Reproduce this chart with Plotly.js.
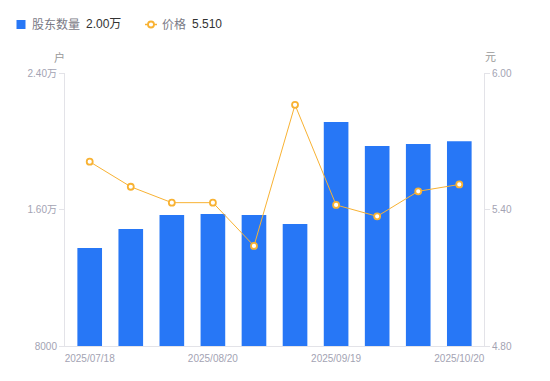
<!DOCTYPE html>
<html><head><meta charset="utf-8">
<script src="https://cdn.plot.ly/plotly-3.0.1.min.js"></script>
<style>html,body{margin:0;padding:0;background:#fff}#c{width:550px;height:381px}</style>
</head><body><div id="c"></div>
<script>
const dates = ["2025/07/18","2025/07/31","2025/08/10","2025/08/20","2025/08/31","2025/09/10","2025/09/19","2025/09/30","2025/10/10","2025/10/20"];
const holders = [13750, 14850, 15680, 15740, 15680, 15150, 21130, 19720, 19840, 20000];
const prices = [5.61, 5.50, 5.43, 5.43, 5.24, 5.86, 5.42, 5.37, 5.48, 5.51];
const shownTicks = ["2025/07/18","2025/08/20","2025/09/19","2025/10/20"];
const leftTicks = [8000, 16000, 24000];
const leftText = ["8000", "1.60万", "2.40万"];
const rightTicks = [4.8, 5.4, 6.0];
const rightText = ["4.80", "5.40", "6.00"];
const legendNames = ["股东数量", "价格"];
const legendValues = ["2.00万", "5.510"];

const font = "'Liberation Sans', 'Noto Sans CJK SC', sans-serif";
const tickColor = "#a3a3b3";
const lineColor = "#e3e3e8";
const barColor = "#2777f6";
const lineCol = "#f8b233";

const M = {l:65, r:66, t:73, b:35};
const W = 550, H = 381;
const pw = W - M.l - M.r, ph = H - M.t - M.b;
const px = x => (x - M.l) / pw;
const py = y => (H - M.b - y) / ph;

const traces = [
  {type:"bar", x:dates, y:holders, name:legendNames[0], marker:{color:barColor}, width:0.6, yaxis:"y"},
  {type:"scatter", mode:"lines+markers", x:dates, y:prices, yaxis:"y2", name:legendNames[1],
   line:{color:lineCol, width:1},
   marker:{size:6, color:"#fff", line:{color:lineCol, width:1.8}}}
];

const ann = (txt, x, y, anchor, color, size) => ({text:txt, xref:"paper", yref:"paper", x:px(x), y:py(y),
  xanchor:anchor, yanchor:"middle", showarrow:false, borderpad:0, font:{size:size, color:color, family:font}});

const layout = {
  width:W, height:H,
  margin:{l:M.l, r:M.r, t:M.t, b:M.b, autoexpand:false},
  paper_bgcolor:"#fff", plot_bgcolor:"#fff",
  font:{family:font, size:10, color:tickColor},
  showlegend:false,
  bargap:0.4,
  xaxis:{type:"category", tickmode:"array", tickvals:shownTicks, ticktext:shownTicks,
         showgrid:false, showline:true, linecolor:lineColor, linewidth:1,
         ticks:"outside", ticklen:3, tickcolor:"rgba(0,0,0,0)", tickfont:{size:10, color:tickColor}, zeroline:false},
  yaxis:{range:[8000,24000], tickmode:"array", tickvals:leftTicks, ticktext:leftText,
         showgrid:false, showline:true, linecolor:lineColor, ticks:"outside", ticklen:5,
         tickcolor:lineColor, zeroline:false, tickfont:{size:10, color:tickColor}},
  yaxis2:{range:[4.8,6.0], overlaying:"y", side:"right", tickmode:"array",
          tickvals:rightTicks, ticktext:rightText, showgrid:false, showline:true,
          linecolor:lineColor, ticks:"outside", ticklen:5, tickcolor:lineColor,
          zeroline:false, tickfont:{size:10, color:tickColor}},
  shapes:[
    {type:"rect", xref:"paper", yref:"paper", x0:px(16.5), x1:px(25.5), y0:py(29), y1:py(20),
     fillcolor:barColor, line:{width:0}},
    {type:"line", xref:"paper", yref:"paper", x0:px(145), x1:px(157), y0:py(24.5), y1:py(24.5),
     line:{color:lineCol, width:1.5}},
    {type:"circle", xref:"paper", yref:"paper", x0:px(148), x1:px(154), y0:py(27.5), y1:py(21.5),
     fillcolor:"#fff", line:{color:lineCol, width:1.8}}
  ],
  annotations:[
    ann(legendNames[0], 31, 24.5, "left", "#7a7a86", 12),
    ann(legendValues[0], 85, 24.5, "left", "#333", 12),
    ann(legendNames[1], 161, 24.5, "left", "#7a7a86", 12),
    ann(legendValues[1], 191, 24.5, "left", "#333", 12),
    ann("户", 59, 57, "center", "#999", 11),
    ann("元", 490, 57, "center", "#999", 11)
  ]
};
Plotly.newPlot("c", traces, layout, {displayModeBar:false, staticPlot:true});
</script></body></html>
